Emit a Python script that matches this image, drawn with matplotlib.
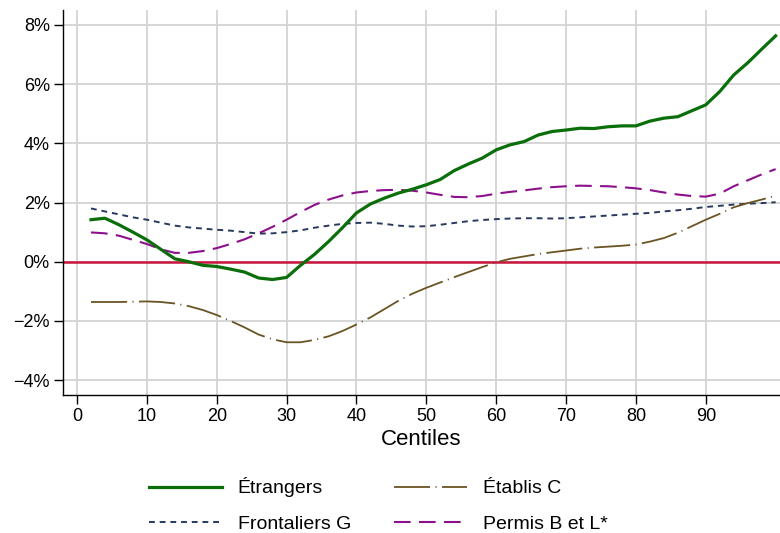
import matplotlib
matplotlib.use("Agg")
import matplotlib.pyplot as plt
from matplotlib.ticker import FuncFormatter

plt.rcParams['font.family'] = ['Liberation Sans', 'DejaVu Sans']

centiles = list(range(2, 101, 2))

etrangers = [1.42, 1.47, 1.25, 1.00, 0.74, 0.42, 0.10, 0.00, -0.12, -0.16,
             -0.25, -0.35, -0.55, -0.60, -0.53, -0.12, 0.25, 0.68, 1.15, 1.65,
             1.95, 2.15, 2.32, 2.45, 2.60, 2.78, 3.08, 3.30, 3.50, 3.78,
             3.95, 4.06, 4.28, 4.40, 4.45, 4.51, 4.50, 4.56, 4.59, 4.59,
             4.75, 4.85, 4.90, 5.10, 5.30, 5.75, 6.31, 6.72, 7.18, 7.63]

frontaliers = [1.80, 1.70, 1.60, 1.50, 1.42, 1.32, 1.22, 1.16, 1.12, 1.08,
               1.05, 1.00, 0.95, 0.96, 1.00, 1.06, 1.15, 1.22, 1.28, 1.31,
               1.32, 1.28, 1.22, 1.19, 1.20, 1.25, 1.31, 1.37, 1.41, 1.44,
               1.46, 1.47, 1.47, 1.46, 1.47, 1.50, 1.53, 1.56, 1.59, 1.62,
               1.65, 1.70, 1.74, 1.79, 1.85, 1.89, 1.93, 1.96, 1.98, 2.01]

permis = [0.99, 0.96, 0.88, 0.74, 0.60, 0.42, 0.30, 0.30, 0.36, 0.46,
          0.60, 0.76, 0.96, 1.18, 1.42, 1.68, 1.92, 2.10, 2.24, 2.34,
          2.39, 2.42, 2.43, 2.40, 2.34, 2.26, 2.19, 2.18, 2.22, 2.30,
          2.36, 2.41, 2.47, 2.52, 2.55, 2.57, 2.56, 2.55, 2.52, 2.48,
          2.42, 2.34, 2.27, 2.22, 2.20, 2.30, 2.55, 2.75, 2.95, 3.13]

etablis = [-1.36, -1.36, -1.36, -1.35, -1.34, -1.36, -1.41, -1.50, -1.63, -1.80,
           -2.00, -2.22, -2.46, -2.62, -2.72, -2.72, -2.64, -2.52, -2.34, -2.12,
           -1.88, -1.60, -1.32, -1.08, -0.88, -0.70, -0.52, -0.35, -0.18, -0.02,
           0.10, 0.18, 0.26, 0.32, 0.38, 0.44, 0.48, 0.51, 0.54, 0.58,
           0.68, 0.80, 0.98, 1.20, 1.42, 1.62, 1.84, 1.98, 2.10, 2.23]

xticks = list(range(0, 91, 10))
yticks = [-4, -2, 0, 2, 4, 6, 8]

fig = plt.figure(figsize=(7.8, 5.33), dpi=100)
ax = fig.add_axes([0.0808, 0.259, 0.919, 0.722])

ax.set_xlim(-2, 100.6)
ax.set_ylim(-4.5, 8.5)
ax.set_xticks(xticks)
ax.set_yticks(yticks)
ax.yaxis.set_major_formatter(FuncFormatter(lambda v, p: f"{int(v)}%".replace("-", "\u2212")))
ax.grid(True, color='#d3d3d3', linewidth=1.3)
ax.set_axisbelow(True)
for s in ['top', 'right']:
    ax.spines[s].set_visible(False)
for s in ['left', 'bottom']:
    ax.spines[s].set_linewidth(1.0)
ax.tick_params(axis='both', labelsize=13, length=6.5, width=1.0, colors='black', pad=3)
ax.set_xlabel('Centiles', fontsize=16, labelpad=3)

ax.axhline(0, color='#c8143c', linewidth=1.8, zorder=2)

l1, = ax.plot(centiles, etrangers, color='#0a6e0a', linewidth=2.3, label='Étrangers', zorder=5)
l2, = ax.plot(centiles, frontaliers, color='#263a5e', linewidth=1.4, linestyle=(0, (3, 2.5)), label='Frontaliers G', zorder=4)
l3, = ax.plot(centiles, etablis, color='#6b5424', linewidth=1.3, linestyle=(0, (20, 3, 0.6, 3)), label='Établis C', zorder=4)
l4, = ax.plot(centiles, permis, color='#8b108b', linewidth=1.5, linestyle=(0, (8, 4)), label='Permis B et L*', zorder=4)

fig.legend(handles=[l1, l2, l3, l4], loc='upper left', bbox_to_anchor=(0.1686, 0.137),
           ncol=2, frameon=False, fontsize=14, handlelength=3.75,
           columnspacing=2.2, handletextpad=0.82, labelspacing=0.9)

fig.savefig('out.png', dpi=100)
